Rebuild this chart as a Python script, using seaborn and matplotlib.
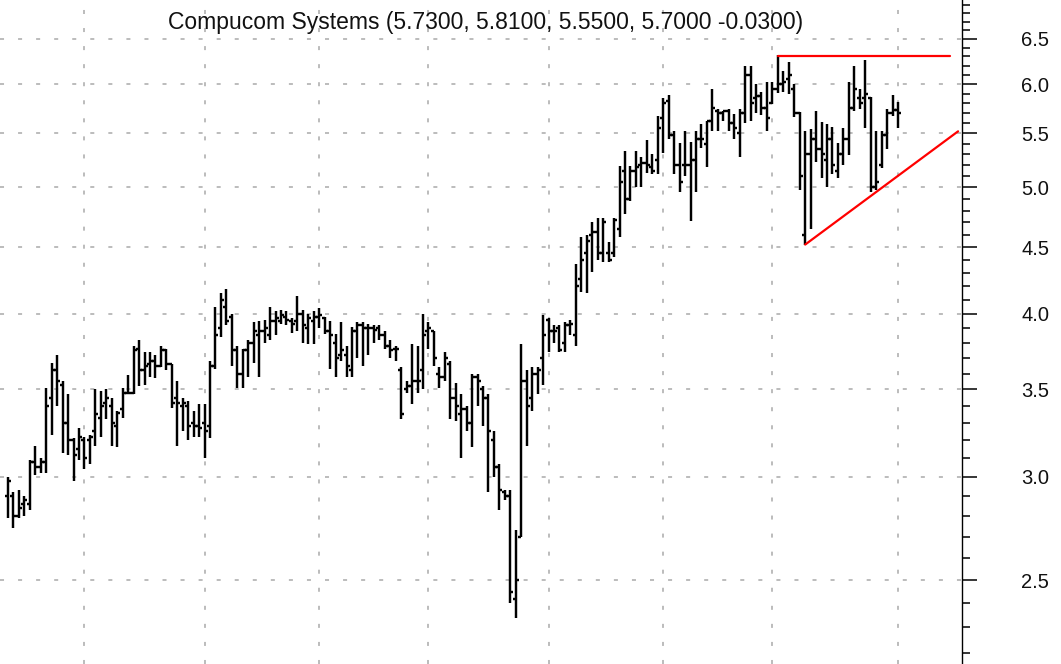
import numpy as np
import pandas as pd
import matplotlib
matplotlib.use("Agg")
import matplotlib.pyplot as plt
import seaborn as sns
from matplotlib.ticker import FixedLocator, FormatStrFormatter, NullFormatter

# ---------------- data (daily OHLC) ----------------
opens = [2.90, 2.90, 2.80, 2.86, 2.86, 3.08, 3.05, 3.08, 3.45, 3.62,
         3.53, 3.30, 3.20, 3.15, 3.20, 3.20, 3.25, 3.33, 3.42, 3.40,
         3.28, 3.38, 3.48, 3.48, 3.76, 3.62,
         3.66, 3.68, 3.65, 3.75, 3.66, 3.45, 3.40, 3.40, 3.30, 3.28,
         3.30, 3.28, 3.65, 3.90, 4.05, 3.98, 3.75, 3.60, 3.75, 3.80,
         3.85, 3.88, 3.85, 3.95, 3.95, 3.98, 3.95, 3.95,
         4.00, 3.90, 3.95, 3.98, 3.97, 3.88, 3.80, 3.72, 3.72, 3.62,
         3.88, 3.92, 3.90, 3.90, 3.90, 3.85, 3.78, 3.76, 3.62, 3.50,
         3.52, 3.55, 3.62, 3.88, 3.88, 3.60,
         3.58, 3.66, 3.45, 3.35, 3.38, 3.30, 3.58, 3.50, 3.45, 3.20,
         3.05, 2.92, 2.90, 2.42, 2.70, 3.55, 3.45, 3.60, 3.70, 3.96,
         3.88, 3.90, 3.80, 3.92, 3.85, 4.25, 4.45, 4.60,
         4.62, 4.45, 4.45, 4.45, 4.65, 5.15, 4.90, 5.15, 5.20, 5.22,
         5.18, 5.25, 5.65, 5.82, 5.48, 5.20, 5.20, 5.20, 5.25, 5.45,
         5.40, 5.62, 5.72, 5.70, 5.72, 5.60,
         5.50, 5.70, 6.10, 5.85, 5.88, 5.75, 5.80, 5.95, 6.00, 6.05,
         5.95, 5.70, 4.60, 5.30, 5.45, 5.35, 5.25, 5.45, 5.15, 5.30,
         5.45, 5.75, 5.85, 5.85, 5.85, 5.00, 5.20, 5.48, 5.70, 5.73]
highs = [3.00, 2.92, 2.93, 2.90, 3.09, 3.17, 3.10, 3.51, 3.67, 3.72,
         3.55, 3.47, 3.21, 3.27, 3.22, 3.23, 3.50, 3.49, 3.50, 3.45,
         3.37, 3.51, 3.59, 3.78, 3.82, 3.74,
         3.74, 3.72, 3.78, 3.76, 3.66, 3.55, 3.45, 3.43, 3.37, 3.41,
         3.41, 3.68, 4.05, 4.15, 4.18, 4.00, 3.78, 3.76, 3.82, 3.94,
         3.95, 3.96, 4.05, 4.02, 4.03, 4.02, 3.97, 4.13,
         4.03, 4.00, 4.02, 4.04, 3.98, 3.95, 3.86, 3.94, 3.78, 3.91,
         3.94, 3.94, 3.93, 3.92, 3.92, 3.88, 3.82, 3.78, 3.64, 3.55,
         3.79, 3.78, 4.00, 3.94, 3.88, 3.64,
         3.74, 3.68, 3.54, 3.47, 3.40, 3.60, 3.60, 3.52, 3.47, 3.25,
         3.07, 2.93, 2.93, 2.73, 3.79, 3.62, 3.64, 3.64, 3.99, 3.97,
         3.92, 3.92, 3.94, 3.96, 4.37, 4.58, 4.60, 4.70,
         4.74, 4.74, 4.54, 4.74, 5.19, 5.33, 5.19, 5.33, 5.28, 5.44,
         5.30, 5.67, 5.85, 5.89, 5.52, 5.41, 5.52, 5.42, 5.52, 5.59,
         5.62, 5.95, 5.74, 5.72, 5.74, 5.69,
         5.74, 6.20, 6.20, 6.00, 5.92, 6.02, 6.02, 6.32, 6.14, 6.24,
         6.00, 5.71, 5.52, 5.54, 5.72, 5.61, 5.59, 5.56, 5.41, 5.55,
         6.02, 6.19, 5.95, 6.26, 5.86, 5.52, 5.52, 5.74, 5.89, 5.81]
lows = [2.79, 2.74, 2.79, 2.80, 2.83, 3.01, 3.02, 3.02, 3.23, 3.40,
        3.13, 3.12, 2.98, 3.09, 3.04, 3.07, 3.17, 3.22, 3.32, 3.17,
        3.16, 3.33, 3.47, 3.47, 3.52, 3.53,
        3.58, 3.57, 3.64, 3.62, 3.39, 3.17, 3.25, 3.20, 3.22, 3.22,
        3.10, 3.21, 3.63, 3.84, 3.92, 3.65, 3.51, 3.51, 3.58, 3.67,
        3.58, 3.80, 3.82, 3.85, 3.93, 3.92, 3.87, 3.88,
        3.80, 3.79, 3.79, 3.90, 3.86, 3.63, 3.58, 3.68, 3.58, 3.58,
        3.70, 3.65, 3.72, 3.80, 3.82, 3.76, 3.70, 3.68, 3.32, 3.48,
        3.41, 3.48, 3.50, 3.76, 3.65, 3.51,
        3.55, 3.32, 3.31, 3.10, 3.25, 3.16, 3.40, 3.28, 2.92, 3.00,
        2.83, 2.88, 2.40, 2.34, 2.70, 3.17, 3.37, 3.47, 3.53, 3.74,
        3.80, 3.74, 3.74, 3.85, 3.78, 4.16, 4.15, 4.31,
        4.40, 4.38, 4.38, 4.42, 4.58, 4.77, 4.88, 5.00, 5.00, 5.13,
        5.12, 5.12, 5.31, 5.45, 5.12, 4.96, 5.10, 4.71, 4.96, 5.36,
        5.18, 5.52, 5.52, 5.62, 5.52, 5.45,
        5.28, 5.60, 5.62, 5.70, 5.68, 5.52, 5.79, 5.91, 5.92, 5.90,
        5.66, 4.98, 4.52, 4.65, 5.23, 5.08, 5.00, 5.12, 5.08, 5.20,
        5.29, 5.72, 5.74, 5.55, 4.96, 4.98, 5.17, 5.35, 5.67, 5.55]
closes = [2.98, 2.80, 2.84, 2.88, 3.08, 3.05, 3.08, 3.40, 3.62, 3.55,
          3.30, 3.20, 3.12, 3.22, 3.10, 3.22, 3.35, 3.40, 3.45, 3.30,
          3.36, 3.48, 3.48, 3.75, 3.62, 3.65,
          3.68, 3.65, 3.75, 3.66, 3.42, 3.42, 3.42, 3.28, 3.28, 3.27,
          3.25, 3.65, 3.85, 4.10, 3.95, 3.75, 3.60, 3.75, 3.80, 3.88,
          3.88, 3.90, 3.95, 3.97, 3.99, 3.96, 3.93, 4.00,
          3.92, 3.97, 3.98, 3.99, 3.88, 3.85, 3.70, 3.75, 3.65, 3.88,
          3.92, 3.90, 3.90, 3.89, 3.85, 3.78, 3.75, 3.76, 3.35, 3.52,
          3.55, 3.55, 3.85, 3.90, 3.70, 3.58,
          3.70, 3.45, 3.40, 3.38, 3.30, 3.58, 3.55, 3.45, 3.25, 3.05,
          2.93, 2.90, 2.45, 2.50, 3.55, 3.40, 3.60, 3.62, 3.85, 3.88,
          3.88, 3.75, 3.92, 3.93, 4.20, 4.40, 4.55, 4.62,
          4.45, 4.70, 4.40, 4.72, 5.05, 4.90, 5.15, 5.18, 5.22, 5.20,
          5.15, 5.55, 5.80, 5.48, 5.20, 5.05, 5.20, 5.25, 5.45, 5.45,
          5.62, 5.75, 5.70, 5.72, 5.60, 5.55,
          5.70, 6.10, 5.80, 5.88, 5.75, 5.65, 5.95, 6.00, 6.02, 6.10,
          5.70, 5.10, 5.30, 5.45, 5.35, 5.30, 5.45, 5.20, 5.30, 5.45,
          5.75, 5.95, 5.80, 5.90, 5.00, 5.05, 5.48, 5.70, 5.73, 5.70]

title = "Compucom Systems (5.7300, 5.8100, 5.5500, 5.7000 -0.0300)"
price_ticks = [2.5, 3.0, 3.5, 4.0, 4.5, 5.0, 5.5, 6.0, 6.5]
month_starts = [14, 36, 57, 77, 99, 120, 140, 163]   # bar index of month boundaries
resistance_x = [141, 172.5]
resistance_y = [6.30, 6.30]
support_x = [146, 174]
support_y = [4.52, 5.52]

# ---------------- figure ----------------
sns.set_theme(style="white")
plt.rcParams["font.family"] = ["Liberation Sans", "DejaVu Sans"]
plt.rcParams["lines.scale_dashes"] = False

df = pd.DataFrame({"open": opens, "high": highs, "low": lows, "close": closes})
df["idx"] = np.arange(len(df))

W, H = 1061, 664
fig = plt.figure(figsize=(W / 100, H / 100), dpi=100)
fig.patch.set_facecolor("white")
ax = fig.add_axes([0, 0, 962 / W, 1])
ax.set_facecolor("white")

ax.set_yscale("log")
ax.set_ylim(2.156, 6.96)
n = len(df)
step = 890 / (n - 1)
ax.set_xlim(-8 / step, (962 - 8) / step)

# grid
grid_kw = dict(color="#bcbcbc", linewidth=1.4, linestyle=(0, (2.9, 10.1)))
ax.yaxis.set_major_locator(FixedLocator(price_ticks))
minor = [v for v in np.round(np.arange(2.2, 6.95, 0.1), 1) if v not in price_ticks]
ax.yaxis.set_minor_locator(FixedLocator(minor))
ax.yaxis.set_major_formatter(FormatStrFormatter("%.1f"))
ax.yaxis.set_minor_formatter(NullFormatter())
ax.set_xticks(month_starts)
ax.grid(True, axis="y", which="major", **grid_kw)
ax.grid(True, axis="x", which="major", **grid_kw)
ax.tick_params(axis="x", length=0, labelbottom=False)
ax.set_axisbelow(True)

# OHLC bars
x = df["idx"].to_numpy()
lw = 1.75
ax.vlines(x, df["low"], df["high"], color="black", linewidth=lw, zorder=3)
ax.hlines(df["open"], x - 0.55, x, color="black", linewidth=lw, zorder=3)
ax.hlines(df["close"], x, x + 0.55, color="black", linewidth=lw, zorder=3)

# trend lines
sns.lineplot(x=resistance_x, y=resistance_y, ax=ax, color="#ff0000", linewidth=1.6, zorder=4)
sns.lineplot(x=support_x, y=support_y, ax=ax, color="#ff0000", linewidth=1.6, zorder=4)

# axes styling
for s in ["left", "top", "bottom"]:
    ax.spines[s].set_visible(False)
ax.spines["right"].set_visible(True)
ax.spines["right"].set_color("black")
ax.spines["right"].set_linewidth(1.0)
ax.yaxis.tick_right()
ax.tick_params(axis="y", which="major", direction="out", length=10.8, width=1.1,
               color="black", pad=32, labelsize=14.5, labelcolor="#111111", right=True, left=False)
ax.tick_params(axis="y", which="minor", direction="out", length=5.8, width=1.1,
               color="black", right=True, left=False)
ax.set_xlabel("")
ax.set_ylabel("")

ax.text(0.505, 1 - 22 / H, title, transform=ax.transAxes, ha="center", va="center",
        fontsize=16.5, color="#111111")

fig.savefig("out.png", dpi=100, facecolor="white")
